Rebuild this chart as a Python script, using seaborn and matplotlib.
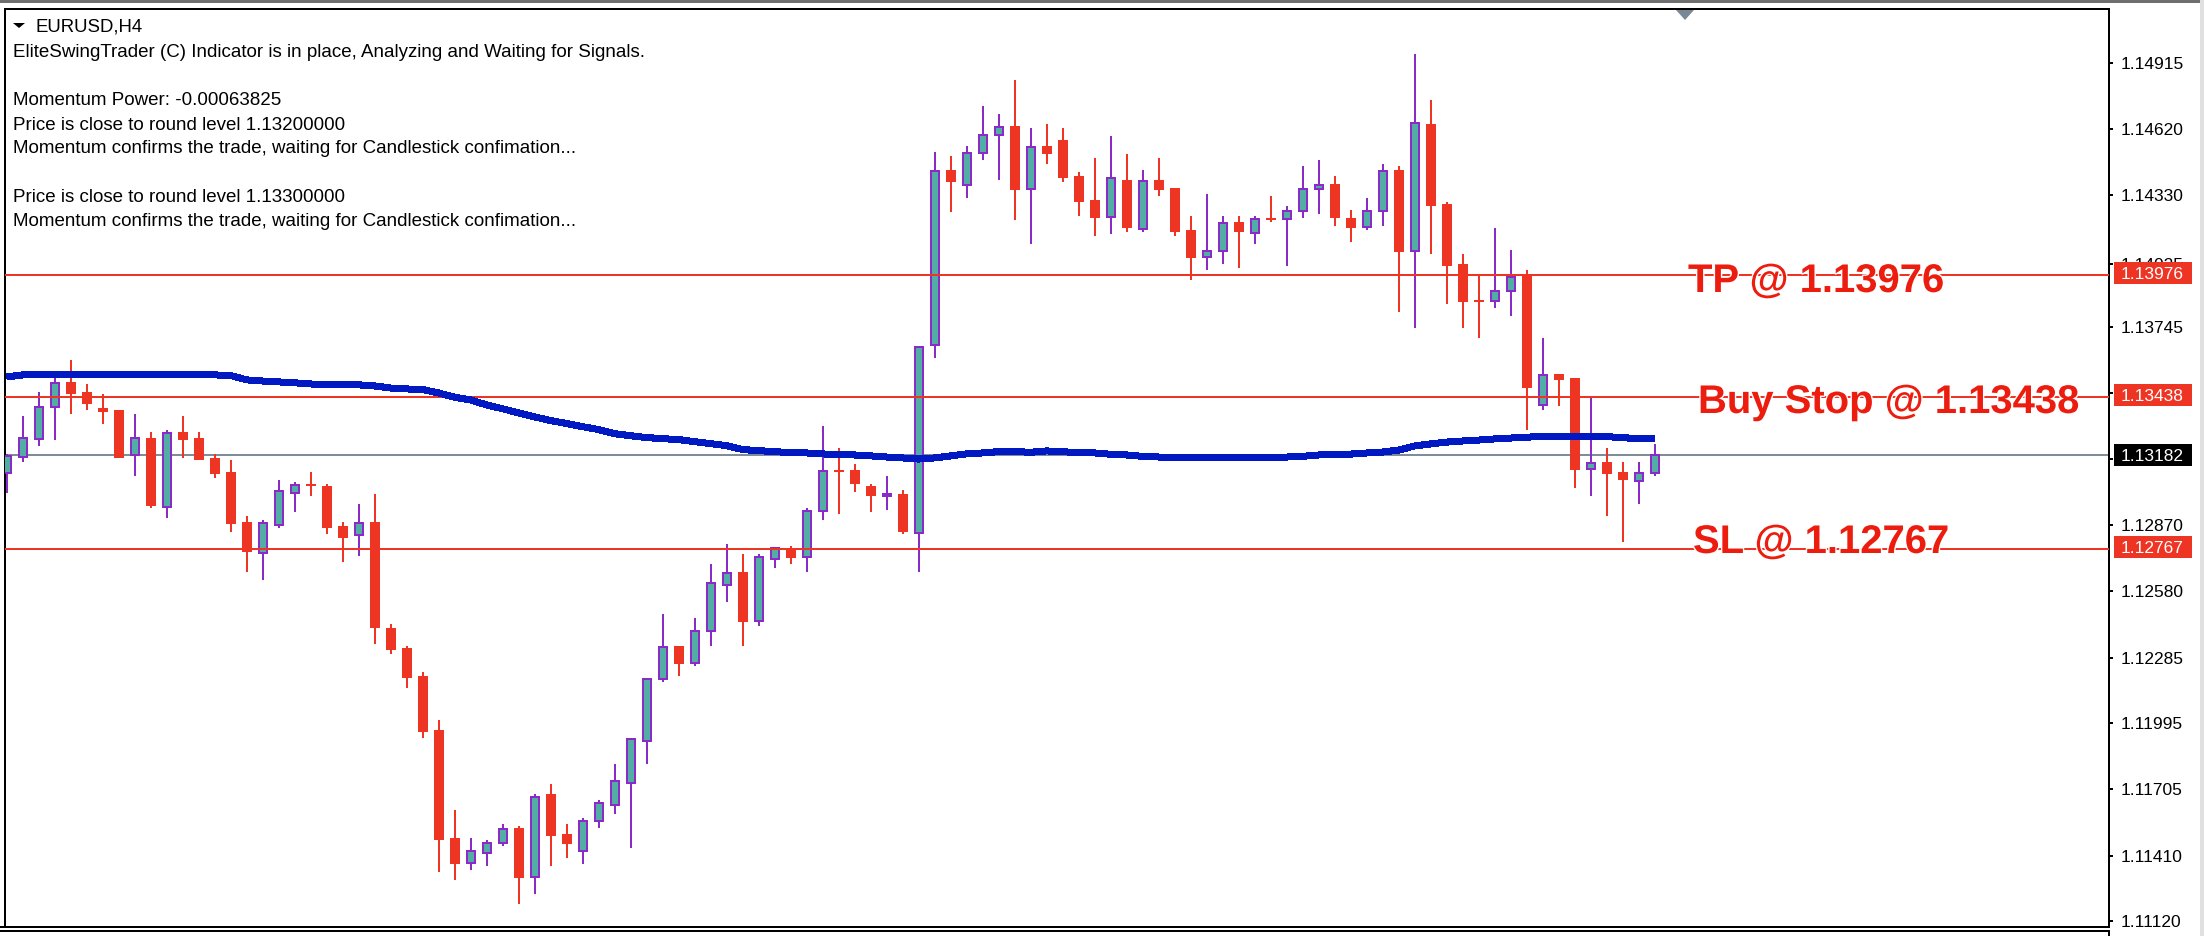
"""
EURUSD H4 candlestick chart with trade levels and a moving average.
"""

import pandas as pd
import matplotlib
matplotlib.use("Agg")
import matplotlib.pyplot as plt
import matplotlib.patheffects as pe
from matplotlib.lines import Line2D
from matplotlib.patches import Polygon, Rectangle
import seaborn as sns

bar_open = [
    1.13100, 1.13171, 1.13251, 1.13392, 1.13504, 1.13460, 1.13389, 1.13380,
    1.13180, 1.13256, 1.12950, 1.13283, 1.13256, 1.13168, 1.13106, 1.12885,
    1.12747, 1.12870, 1.13012, 1.13053, 1.13044, 1.12868, 1.12826, 1.12885,
    1.12416, 1.12328, 1.12204, 1.11966, 1.11488, 1.11376, 1.11420, 1.11465,
    1.11532, 1.11314, 1.11683, 1.11506, 1.11429, 1.11562, 1.11633, 1.11730,
    1.11915, 1.12189, 1.12337, 1.12260, 1.12402, 1.12605, 1.12664, 1.12446,
    1.12720, 1.12768, 1.12729, 1.12932, 1.13115, 1.13115, 1.13044, 1.13001,
    1.13009, 1.12835, 1.13666, 1.14441, 1.14373, 1.14514, 1.14594, 1.14635,
    1.14355, 1.14547, 1.14573, 1.14414, 1.14308, 1.14232, 1.14397, 1.14179,
    1.14397, 1.14361, 1.14176, 1.14055, 1.14081, 1.14211, 1.14161, 1.14229,
    1.14223, 1.14258, 1.14355, 1.14379, 1.14229, 1.14187, 1.14258, 1.14441,
    1.14081, 1.14644, 1.14290, 1.14025, 1.13866, 1.13860, 1.13904, 1.13972,
    1.13400, 1.13539, 1.13521, 1.13117, 1.13150, 1.13106, 1.13065, 1.13100,
]
bar_close = [
    1.13177, 1.13254, 1.13395, 1.13501, 1.13451, 1.13407, 1.13371, 1.13168,
    1.13254, 1.12956, 1.13280, 1.13248, 1.13159, 1.13097, 1.12876, 1.12753,
    1.12882, 1.13024, 1.13050, 1.13046, 1.12859, 1.12814, 1.12882, 1.12416,
    1.12319, 1.12195, 1.11957, 1.11479, 1.11373, 1.11432, 1.11468, 1.11530,
    1.11311, 1.11671, 1.11497, 1.11462, 1.11565, 1.11644, 1.11742, 1.11927,
    1.12192, 1.12334, 1.12257, 1.12405, 1.12617, 1.12661, 1.12443, 1.12732,
    1.12768, 1.12726, 1.12935, 1.13112, 1.13107, 1.13053, 1.13000, 1.13009,
    1.12841, 1.13660, 1.14438, 1.14388, 1.14517, 1.14597, 1.14632, 1.14352,
    1.14544, 1.14512, 1.14405, 1.14299, 1.14229, 1.14403, 1.14184, 1.14394,
    1.14352, 1.14167, 1.14052, 1.14084, 1.14208, 1.14167, 1.14226, 1.14220,
    1.14261, 1.14358, 1.14376, 1.14229, 1.14184, 1.14261, 1.14438, 1.14078,
    1.14650, 1.14281, 1.14016, 1.13857, 1.13857, 1.13907, 1.13969, 1.13477,
    1.13536, 1.13512, 1.13114, 1.13147, 1.13097, 1.13071, 1.13103, 1.13182,
]
bar_high = [
    1.13184, 1.13354, 1.13460, 1.13528, 1.13601, 1.13495, 1.13451, 1.13380,
    1.13363, 1.13283, 1.13292, 1.13354, 1.13283, 1.13186, 1.13159, 1.12912,
    1.12894, 1.13071, 1.13062, 1.13106, 1.13053, 1.12885, 1.12965, 1.13009,
    1.12434, 1.12337, 1.12222, 1.12010, 1.11612, 1.11488, 1.11479, 1.11550,
    1.11541, 1.11683, 1.11727, 1.11550, 1.11577, 1.11656, 1.11815, 1.11927,
    1.12192, 1.12478, 1.12337, 1.12461, 1.12699, 1.12788, 1.12744, 1.12744,
    1.12768, 1.12779, 1.12947, 1.13309, 1.13212, 1.13141, 1.13053, 1.13088,
    1.13026, 1.13660, 1.14520, 1.14503, 1.14547, 1.14724, 1.14688, 1.14839,
    1.14626, 1.14644, 1.14626, 1.14432, 1.14494, 1.14591, 1.14512, 1.14441,
    1.14494, 1.14361, 1.14237, 1.14335, 1.14237, 1.14237, 1.14237, 1.14326,
    1.14282, 1.14458, 1.14485, 1.14414, 1.14264, 1.14317, 1.14467, 1.14458,
    1.14953, 1.14750, 1.14299, 1.14069, 1.13976, 1.14184, 1.14087, 1.13998,
    1.13698, 1.13539, 1.13521, 1.13433, 1.13212, 1.13150, 1.13150, 1.13230,
]
bar_low = [
    1.13012, 1.13152, 1.13221, 1.13248, 1.13363, 1.13380, 1.13318, 1.13168,
    1.13088, 1.12947, 1.12903, 1.13168, 1.13159, 1.13080, 1.12841, 1.12664,
    1.12629, 1.12859, 1.12929, 1.13000, 1.12832, 1.12708, 1.12735, 1.12346,
    1.12301, 1.12151, 1.11930, 1.11338, 1.11303, 1.11347, 1.11364, 1.11453,
    1.11196, 1.11241, 1.11364, 1.11400, 1.11373, 1.11532, 1.11594, 1.11444,
    1.11815, 1.12178, 1.12204, 1.12248, 1.12337, 1.12531, 1.12337, 1.12425,
    1.12682, 1.12699, 1.12664, 1.12894, 1.12920, 1.13018, 1.12929, 1.12938,
    1.12832, 1.12664, 1.13610, 1.14255, 1.14317, 1.14485, 1.14397, 1.14220,
    1.14114, 1.14467, 1.14388, 1.14237, 1.14149, 1.14158, 1.14167, 1.14167,
    1.14326, 1.14149, 1.13955, 1.13999, 1.14025, 1.14008, 1.14114, 1.14211,
    1.14016, 1.14229, 1.14246, 1.14193, 1.14123, 1.14176, 1.14193, 1.13813,
    1.13742, 1.14069, 1.13848, 1.13742, 1.13698, 1.13830, 1.13795, 1.13291,
    1.13380, 1.13397, 1.13035, 1.13000, 1.12911, 1.12796, 1.12965, 1.13088,
]
ma_values = [
    1.13526, 1.13535, 1.13535, 1.13535, 1.13535, 1.13535, 1.13535, 1.13535,
    1.13535, 1.13535, 1.13535, 1.13535, 1.13535, 1.13535, 1.13532, 1.13513,
    1.13508, 1.13504, 1.13500, 1.13495, 1.13491, 1.13491, 1.13491, 1.13486,
    1.13477, 1.13473, 1.13470, 1.13455, 1.13436, 1.13424, 1.13402, 1.13385,
    1.13367, 1.13349, 1.13333, 1.13320, 1.13306, 1.13293, 1.13275, 1.13266,
    1.13258, 1.13253, 1.13249, 1.13240, 1.13231, 1.13222, 1.13205, 1.13200,
    1.13196, 1.13191, 1.13190, 1.13186, 1.13181, 1.13181, 1.13177, 1.13172,
    1.13168, 1.13163, 1.13168, 1.13177, 1.13186, 1.13190, 1.13196, 1.13196,
    1.13193, 1.13199, 1.13196, 1.13190, 1.13190, 1.13184, 1.13181, 1.13175,
    1.13172, 1.13172, 1.13172, 1.13172, 1.13172, 1.13172, 1.13172, 1.13172,
    1.13172, 1.13175, 1.13181, 1.13181, 1.13185, 1.13190, 1.13194, 1.13203,
    1.13221, 1.13230, 1.13238, 1.13243, 1.13247, 1.13252, 1.13256, 1.13260,
    1.13262, 1.13262, 1.13262, 1.13262, 1.13262, 1.13258, 1.13252, 1.13252,
]

tick_values = [1.14915, 1.14620, 1.14330, 1.14025, 1.13745, 1.13455, 1.13165,
               1.12870, 1.12580, 1.12285, 1.11995, 1.11705, 1.11410, 1.11120]
# the two blanks sit under the price tags
tick_labels = ["1.14915", "1.14620", "1.14330", "1.14025", "1.13745", "", "",
               "1.12870", "1.12580", "1.12285", "1.11995", "1.11705", "1.11410", "1.11120"]

level_prices = [1.13976, 1.13438, 1.12767]
level_names = ["TP @ 1.13976", "Buy Stop @ 1.13438", "SL @ 1.12767"]
last_price = 1.13182

info_lines = [
    "EliteSwingTrader (C) Indicator is in place, Analyzing and Waiting for Signals.",
    "Momentum Power: -0.00063825",
    "Price is close to round level 1.13200000",
    "Momentum confirms the trade, waiting for Candlestick confimation...",
    "Price is close to round level 1.13300000",
    "Momentum confirms the trade, waiting for Candlestick confimation...",
]

W, H = 2204, 936
PX = 0.72  # one pixel in points at dpi 100
RED = "#EE3524"
LABEL_RED = "#EC1C0E"
PURPLE = "#8A2BC8"
TEAL = "#52AEA5"
BLUE = "#0019C3"
GREY = "#7F8C99"

sns.set_theme(style="white")
plt.rcParams["font.family"] = ["Liberation Sans", "DejaVu Sans"]

df = pd.DataFrame({"open": bar_open, "high": bar_high, "low": bar_low,
                   "close": bar_close, "ma": ma_values})
df["bar"] = range(len(df))
up = df[df["close"] >= df["open"]]
down = df[df["close"] < df["open"]]


def fx(px):
    return px / W


def fy(px):
    return 1 - px / H


fig = plt.figure(figsize=(W / 100, H / 100), dpi=100, facecolor="white")
ax = fig.add_axes([fx(5), fy(927), fx(2109 - 5), (927 - 9) / H])

# 16 px per bar, first bar centred at 6.8 px
ax.set_xlim((5 - 6.8) / 16, (2109 - 6.8) / 16)
ax.set_ylim(1.11095, 1.15152)

ax.axhline(last_price, color=GREY, lw=2 * PX, zorder=1)

ax.vlines(up["bar"], up["low"], up["high"], color=PURPLE, lw=2 * PX, zorder=2)
ax.vlines(down["bar"], down["low"], down["high"], color=RED, lw=2 * PX, zorder=2)
ax.bar(up["bar"], up["close"] - up["open"], bottom=up["open"], width=8 / 16,
       color=TEAL, edgecolor=PURPLE, linewidth=2 * PX, zorder=3)
ax.bar(down["bar"], down["open"] - down["close"], bottom=down["close"], width=10 / 16,
       color=RED, linewidth=0, zorder=3)

for price in level_prices:
    ax.axhline(price, color=RED, lw=2 * PX, zorder=4)

# aliased so the average keeps the stepped look of the terminal
sns.lineplot(data=df, x="bar", y="ma", color=BLUE, linewidth=6 * PX, errorbar=None,
             solid_capstyle="butt", antialiased=False, ax=ax, zorder=5)

ax.set_xlabel("")
ax.set_ylabel("")
ax.set_xticks([])
ax.yaxis.tick_right()
ax.set_yticks(tick_values)
ax.set_yticklabels(tick_labels, fontsize=12.5, color="black")
ax.tick_params(axis="y", length=4 * PX, width=2 * PX, color="black", pad=8 * PX, right=True)
for spine in ax.spines.values():
    spine.set_color("black")
    spine.set_linewidth(2 * PX)


# price tags on the right scale
def price_tag(price, face, dy):
    y_px = 62.7 + (1.14915 - price) / 4.42e-5 + dy
    fig.add_artist(Rectangle((fx(2114), fy(y_px + 11)), 78 / W, 22 / H, color=face,
                             transform=fig.transFigure, zorder=6, lw=0))
    fig.text(fx(2121), fy(y_px), f"{price:.5f}", color="white", fontsize=12.5,
             ha="left", va="center_baseline", zorder=7)


for price in level_prices:
    price_tag(price, RED, -2)
price_tag(last_price, "black", 0)

# big trade labels, the level line shows in the gaps between the letters
label_pos = [(1688, 292), (1698, 413), (1693, 553)]
for name, (lx, ly) in zip(level_names, label_pos):
    fig.text(fx(lx), fy(ly), name, color=LABEL_RED, fontsize=28.8, fontweight="bold",
             ha="left", va="baseline", zorder=8,
             path_effects=[pe.withStroke(linewidth=2, foreground="white")])

# indicator comment block
fig.text(fx(35.5), fy(31.5), "EURUSD,H4", fontsize=13.4, color="black", ha="left", va="baseline")
for line, base in zip(info_lines, [57, 105, 130, 153, 201.5, 226]):
    fig.text(fx(13), fy(base), line, fontsize=13.5, color="black", ha="left", va="baseline")
fig.add_artist(Polygon([(fx(13), fy(23)), (fx(25), fy(23)), (fx(19), fy(28))],
                       closed=True, color="black", transform=fig.transFigure, lw=0))

# window furniture
fig.add_artist(Polygon([(fx(1676), fy(10)), (fx(1694), fy(10)), (fx(1685), fy(20))],
                       closed=True, color="#7A8796", transform=fig.transFigure, lw=0))
fig.add_artist(Rectangle((0, fy(3)), 1, 3 / H, color="#6E6E6E", transform=fig.transFigure, lw=0))
fig.add_artist(Rectangle((fx(2200), 0), 4 / W, 1, color="#E0E0E0", transform=fig.transFigure, lw=0))
fig.add_artist(Line2D([0, fx(2109)], [fy(931), fy(931)], color="black", lw=2 * PX))
fig.add_artist(Line2D([0, fx(5)], [fy(927), fy(927)], color="black", lw=2 * PX))
fig.add_artist(Line2D([fx(2109), fx(2109)], [fy(931), 0], color="black", lw=2 * PX))

fig.savefig("out.png", dpi=100)
